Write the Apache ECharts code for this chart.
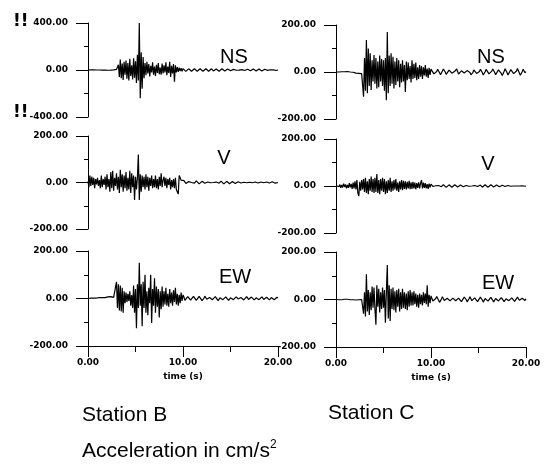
<!DOCTYPE html>
<html>
<head>
<meta charset="utf-8">
<script src="https://cdn.jsdelivr.net/npm/echarts@6/dist/echarts.min.js"></script>
<style>
html, body {margin:0; padding:0; background:#fff;}
#chart {width:548px; height:475px;}
</style>
</head>
<body>
<div id="chart"></div>
<script>
// sample interval of the records (s), first sample at t = 0
const dt = 0.1;

// acceleration, cm/s^2
const stationB_NS = [
    0,2,-1,1,-2,0,1,-1,2,0,
    -1,1,0,-2,2,-1,0,1,-1,0,
    2,-2,1,0,-1,3,-2,1,0,-3,
    5,-10,45,-60,90,-70,55,-85,70,-40,
    80,-75,60,-90,95,-50,40,-80,100,-65,
    75,-110,130,-90,400,-240,150,-160,110,-70,
    60,-45,70,-30,50,-55,35,-20,65,-40,
    30,-50,45,-25,60,-35,20,-40,55,-30,
    40,-20,65,-45,30,-25,70,-60,35,-30,
    50,-100,40,-20,25,-15,20,-10,15,-12,
    12,8,-4,-12,-8,3,10,9,-2,-10,
    -9,1,11,8,-3,-11,-6,4,10,6,
    -5,-10,-4,6,11,5,-6,-10,-3,7,
    10,3,-8,-9,0,9,8,-3,-10,-5,
    5,10,4,-7,-9,-1,8,9,-2,-8,
    -6,4,9,5,-5,-9,-2,7,8,-1,
    -8,-6,3,9,6,-4,-8,-3,6,8,
    1,-7,-8,2,9,6,-5,-9,-2,7,
    9,2,-7,-8,1,8,6,-4,-9,-3,
    6,9,2,-7,-7,1,8,5,-4,-6,
    0
];
const stationB_V = [
    5,-20,30,-15,25,-10,20,-25,15,-8,
    20,-15,10,-25,30,-20,15,-10,25,-30,
    35,-20,15,-40,45,-25,50,-35,20,-15,
    40,-30,25,-45,55,-20,35,-40,30,-25,
    45,-35,20,-30,50,-45,40,-20,30,-75,
    25,-30,20,120,-75,35,-40,30,-20,25,
    -30,35,-20,25,-35,20,-15,30,-25,15,
    -20,30,-25,15,-30,25,-15,40,-20,10,
    25,-15,20,-25,15,-10,20,-30,10,-20,
    15,-25,20,-30,-40,-50,30,20,10,15,
    12,8,2,-4,-6,-2,4,8,6,0,
    -5,-7,-3,3,7,5,-1,-6,-6,-1,
    5,7,3,-3,-6,-4,2,6,5,-1,
    -6,-5,0,5,6,2,-4,-6,-3,3,
    6,4,-2,-6,-4,1,5,5,0,-5,
    -5,-1,4,6,2,-4,-5,-2,3,5,
    3,-2,-6,-4,1,5,4,-1,-5,-4,
    1,5,4,-1,-5,-3,2,5,3,-2,
    -5,-3,2,5,4,-1,-5,-3,2,4,
    3,-2,-4,-2,3,4,1,-3,-4,-1,
    0
];
const stationB_EW = [
    0,1,0,2,1,0,2,1,3,2,
    3,2,4,3,2,4,5,3,4,6,
    5,7,6,5,8,6,4,5,3,2,
    70,-40,60,-50,55,-55,45,-60,30,-20,
    25,-15,20,-10,30,-30,15,-40,55,-60,
    40,-125,60,-40,150,-30,60,-117,70,-40,
    100,-60,30,-70,45,-20,100,-103,40,-30,
    85,-60,50,-35,40,-80,30,-45,50,-35,
    30,-25,45,-30,20,-35,40,-20,25,-30,
    35,-15,45,-25,20,-30,15,-20,25,-10,
    15,6,-8,-14,-6,8,14,5,-7,-12,
    -3,9,12,3,-8,-11,-2,9,11,2,
    -9,-10,1,10,8,-3,-10,-6,4,9,
    6,-5,-10,-3,8,9,0,-9,-7,3,
    9,5,-5,-9,-2,7,8,-1,-8,-6,
    3,8,4,-5,-8,-1,7,7,-2,-7,
    -5,4,8,3,-6,-7,1,8,5,-4,
    -7,-2,6,7,0,-6,-5,3,7,2,
    -5,-6,2,7,4,-4,-6,-1,5,5,
    -2,-6,-3,4,6,1,-5,-4,2,5,
    2
];
const stationC_NS = [
    0,1,-1,0,2,-1,1,0,-2,1,
    0,-1,2,-2,1,0,-1,2,-1,0,
    -3,-5,-4,-8,-6,-10,-5,-7,-3,-105,
    60,-80,136,-90,100,-60,80,-77,50,-40,
    72,-50,60,-70,45,-65,70,-40,55,-60,
    50,-80,60,-120,170,-90,70,-60,80,-50,
    65,-70,45,-55,60,-40,50,-65,35,-45,
    50,-40,30,-85,45,-35,40,-30,25,-45,
    50,-30,35,-25,40,-35,20,-30,30,-20,
    25,-30,20,-15,30,-20,15,-25,18,-12,
    12,15,6,-8,-14,-10,2,12,10,-3,
    -12,-9,4,13,11,0,-10,-13,-4,8,
    14,9,-5,-12,-8,3,11,13,2,-9,
    -14,-7,5,12,8,-4,-11,-6,6,14,
    10,-2,-12,-13,-3,9,15,7,-6,-12,
    -9,2,12,10,-2,-13,-11,1,11,14,
    5,-8,-15,-9,4,13,12,-1,-12,-14,
    -4,9,16,8,-6,-15,-10,3,14,12,
    -2,-13,-16,-5,10,17,9,-7,-15,-9,
    4,15,11,-4,-14,-12,1,12,10,-3,
    2
];
const stationC_V = [
    2,-5,8,-3,6,-8,4,-6,10,-4,
    7,-10,5,-8,12,-6,9,-12,15,-10,
    20,-15,25,-30,-43,18,-20,25,-15,30,
    -25,35,-30,20,-35,30,-20,40,-25,30,
    -30,35,-25,51,-30,25,-35,30,-20,35,
    -25,30,-35,20,-30,25,-20,35,-25,20,
    -20,25,-15,30,-20,15,-25,20,-15,25,
    -18,22,-12,20,-15,18,-10,22,-14,16,
    -12,18,-10,15,-14,12,-8,16,-10,12,
    25,-10,14,-8,12,-10,8,-12,10,-6,
    8,5,-2,-7,-5,1,6,7,2,-4,
    -6,-3,3,6,4,-2,-6,-4,2,5,
    5,0,-5,-5,0,5,6,1,-4,-6,
    -2,4,6,3,-3,-6,-3,2,5,4,
    -1,-5,-5,0,5,6,2,-4,-6,-2,
    3,6,4,-2,-5,-4,1,5,4,-1,
    -5,-4,1,5,5,0,-4,-5,-1,4,
    5,2,-3,-5,-2,3,5,3,-2,-5,
    -3,2,5,4,-1,-4,-4,0,4,4,
    0,-4,-4,0,3,4,1,-3,-3,-1,
    0
];
const stationC_EW = [
    0,1,0,-1,1,0,-1,1,0,1,
    0,-1,1,0,2,-1,0,1,-1,0,
    1,-2,0,2,-1,1,-2,0,1,-60,
    30,-72,106,-50,40,-65,30,-45,55,-35,
    50,-40,-106,60,-30,45,-55,30,-40,50,
    -35,40,-98,30,145,-80,60,-90,45,-40,
    50,-45,35,-55,40,-30,45,-50,30,-40,
    45,-35,30,-40,25,-45,35,-30,40,-25,
    30,-25,35,-20,25,-30,20,-35,25,-20,
    20,-25,30,-15,25,-20,60,-30,20,-15,
    15,8,-6,-14,-9,4,13,10,-3,-12,
    -10,2,12,9,-4,-12,-8,5,13,7,
    -6,-13,-7,6,12,8,-5,-11,-6,6,
    12,4,-9,-12,-2,10,11,0,-10,-9,
    3,12,8,-5,-12,-6,7,12,3,-9,
    -11,-1,10,10,-2,-11,-8,4,12,6,
    -7,-12,-3,9,11,1,-10,-9,4,12,
    7,-6,-12,-5,8,11,2,-9,-10,3,
    11,8,-5,-11,-6,7,12,4,-8,-11,
    -2,10,9,-3,-10,-7,5,8,3,-4,
    3
];

const componentNames = ['NS', 'V', 'EW'];
const stationNames = ['Station B', 'Station C'];
const timeRange = [0, 20];

// layout of the six panels (pixels)
const panels = [
    {values: stationB_NS, range: 400, left: 88, top: 23, height: 94, label: [234, 57]},
    {values: stationB_V, range: 200, left: 88, top: 136, height: 93, label: [224, 158]},
    {values: stationB_EW, range: 200, left: 88, top: 251, height: 95, label: [235, 277], bottom: true},
    {values: stationC_NS, range: 200, left: 336, top: 25, height: 94, label: [491, 57]},
    {values: stationC_V, range: 200, left: 336, top: 139, height: 94, label: [488, 164]},
    {values: stationC_EW, range: 200, left: 336, top: 252, height: 95, label: [498, 283], bottom: true}
];

const tickFont = {fontFamily: 'DejaVu Sans', fontWeight: 'bold', fontSize: 9, color: '#000'};
const bigFont = '21px "Liberation Sans"';

const chart = echarts.init(document.getElementById('chart'));

const grid = [], xAxis = [], yAxis = [], series = [], graphic = [];

panels.forEach((p, i) => {
    grid.push({left: p.left, top: p.top, width: 190, height: p.height});
    xAxis.push({
        gridIndex: i,
        type: 'value',
        min: timeRange[0],
        max: timeRange[1],
        interval: 10,
        show: !!p.bottom,
        name: 'time (s)',
        nameLocation: 'middle',
        nameGap: 26,
        nameTextStyle: tickFont,
        axisLine: {onZero: false, lineStyle: {color: '#000', width: 1}},
        axisTick: {length: 11, lineStyle: {color: '#000'}},
        minorTick: {show: true, splitNumber: 2, length: 6, lineStyle: {color: '#000'}},
        axisLabel: Object.assign({margin: 12, formatter: v => v.toFixed(2)}, tickFont),
        splitLine: {show: false}
    });
    yAxis.push({
        gridIndex: i,
        type: 'value',
        min: -p.range,
        max: p.range,
        interval: p.range,
        axisLine: {show: true, onZero: false, lineStyle: {color: '#000', width: 1}},
        axisTick: {show: true, length: 12, lineStyle: {color: '#000'}},
        minorTick: {show: true, splitNumber: 2, length: 4, lineStyle: {color: '#000'}},
        axisLabel: Object.assign({margin: 20, formatter: v => v.toFixed(2)}, tickFont),
        splitLine: {show: false}
    });
    series.push({
        type: 'line',
        xAxisIndex: i,
        yAxisIndex: i,
        showSymbol: false,
        silent: true,
        lineStyle: {color: '#000', width: 1.2},
        data: p.values.map((v, k) => [k * dt, v])
    });
    graphic.push({
        type: 'text',
        x: p.label[0],
        y: p.label[1],
        style: {
            text: componentNames[i % 3],
            font: '20px "Liberation Sans"',
            fill: '#000',
            align: 'center',
            verticalAlign: 'middle'
        }
    });
});

graphic.push(
    {type: 'text', x: 82, y: 415, style: {text: stationNames[0], font: bigFont, fill: '#000', verticalAlign: 'middle'}},
    {type: 'text', x: 328, y: 413, style: {text: stationNames[1], font: bigFont, fill: '#000', verticalAlign: 'middle'}},
    {type: 'text', x: 82, y: 451, style: {
        text: 'Acceleration in cm/s{sup|2}',
        font: bigFont,
        fill: '#000',
        verticalAlign: 'middle',
        rich: {sup: {fontSize: 12, fontFamily: 'Liberation Sans', verticalAlign: 'top', padding: [0, 0, 12, 0]}}
    }},
    {type: 'text', x: 13, y: 22, style: {text: '!!', font: 'bold 17px "DejaVu Sans"', fill: '#000', verticalAlign: 'middle'}},
    {type: 'text', x: 13, y: 113, style: {text: '!!', font: 'bold 17px "DejaVu Sans"', fill: '#000', verticalAlign: 'middle'}}
);

chart.setOption({
    backgroundColor: '#fff',
    animation: false,
    grid: grid,
    xAxis: xAxis,
    yAxis: yAxis,
    series: series,
    graphic: graphic
});
</script>
</body>
</html>
